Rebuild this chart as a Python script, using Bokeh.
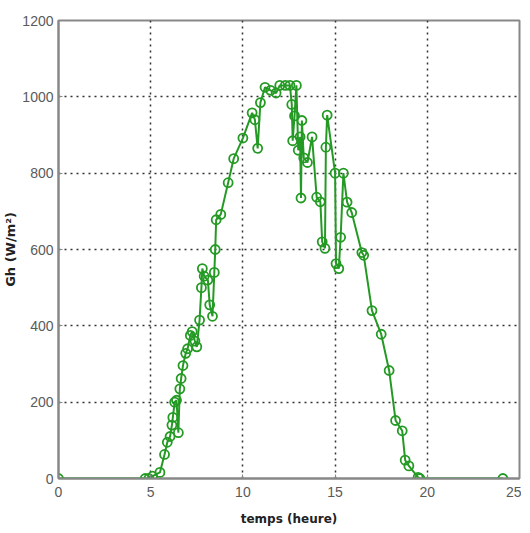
from bokeh.plotting import figure
from bokeh.models import Range1d, FixedTicker
from bokeh.embed import file_html
from bokeh.resources import INLINE

temps = [0, 4.7, 4.9, 5.1, 5.5, 5.75, 5.9, 6.05, 6.15, 6.2, 6.3, 6.4, 6.5, 6.58,
         6.65, 6.75, 6.9, 7.0, 7.15, 7.25, 7.4, 7.5, 7.65, 7.75, 7.8, 7.9, 8.1,
         8.2, 8.35, 8.45, 8.5, 8.55, 8.8, 9.2, 9.5, 10.0, 10.5, 10.65, 10.8,
         10.95, 11.2, 11.5, 11.8, 12.0, 12.3, 12.55, 12.65, 12.7, 12.8, 12.9,
         13.0, 13.1, 13.15, 13.2, 13.3, 13.5, 13.75, 14.0, 14.2, 14.3, 14.45,
         14.5, 14.57, 15.0, 15.05, 15.2, 15.3, 15.45, 15.65, 15.9, 16.45, 16.55,
         17.0, 17.5, 17.93, 18.28, 18.64, 18.8, 19.0, 19.5, 19.6, 24.1]
gh = [0, 0, 0, 6, 16, 63, 95, 110, 140, 160, 200, 205, 120, 235,
      262, 296, 328, 340, 375, 385, 360, 345, 415, 500, 550, 530, 520,
      455, 425, 540, 600, 678, 692, 775, 838, 892, 958, 940, 865,
      985, 1025, 1017, 1010, 1030, 1030, 1030, 980, 885, 950, 1030,
      860, 895, 735, 938, 840, 828, 895, 737, 725, 620, 603,
      868, 952, 800, 563, 550, 632, 800, 724, 697, 592, 585,
      440, 378, 283, 152, 125, 48, 33, 3, 0, 0]

x_ticks = [0, 5, 10, 15, 20, 25]
y_ticks = [0, 200, 400, 600, 800, 1000, 1200]

p = figure(width=521, height=530, output_backend="svg", toolbar_location=None,
           x_range=Range1d(0, 25), y_range=Range1d(0, 1200),
           min_border_left=54, min_border_right=2, min_border_top=20,
           min_border_bottom=52)
p.background_fill_color = "white"
p.border_fill_color = "white"
p.outline_line_color = "#888888"
p.outline_line_width = 2

green = "#249a24"
p.line(temps, gh, line_color=green, line_width=2)
p.scatter(temps, gh, marker="circle", size=9, line_color=green, line_width=1.8,
          fill_color=None)

for ax in (p.xaxis, p.yaxis):
    ax.axis_line_color = "#888888"
    ax.axis_line_width = 2
    ax.major_tick_line_color = "#888888"
    ax.major_tick_in = 4
    ax.major_tick_out = 0
    ax.minor_tick_line_color = None
    ax.major_label_text_color = "#5a5a5a"
    ax.major_label_text_font = "Liberation Sans"
    ax.major_label_text_font_size = "14px"
    ax.axis_label_text_font = "DejaVu Sans"
    ax.axis_label_text_font_style = "bold"
    ax.axis_label_text_color = "#222222"

p.xaxis.ticker = FixedTicker(ticks=x_ticks)
p.yaxis.ticker = FixedTicker(ticks=y_ticks)
p.xaxis.axis_label = "temps (heure)"
p.yaxis.axis_label = "Gh (W/m²)"
p.xaxis.axis_label_text_font_size = "12px"
p.yaxis.axis_label_text_font_size = "13px"
p.xaxis.major_label_standoff = 8
p.yaxis.major_label_standoff = 5
p.xaxis.axis_label_standoff = 12
p.yaxis.axis_label_standoff = 1

for g in (p.xgrid, p.ygrid):
    g.grid_line_color = "#333333"
    g.grid_line_dash = "2 4"
    g.grid_line_width = 1.5
p.xgrid.ticker = FixedTicker(ticks=x_ticks)
p.ygrid.ticker = FixedTicker(ticks=y_ticks)

open("out.html", "w").write(file_html(p, INLINE))
